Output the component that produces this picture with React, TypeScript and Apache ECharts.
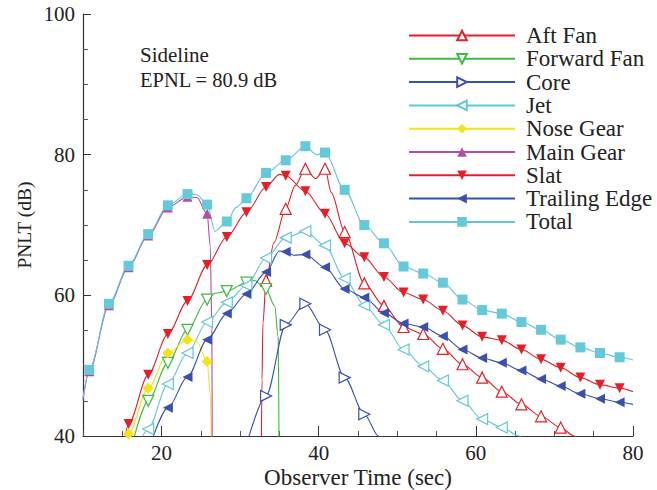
import React, { useEffect, useRef } from "react";
import * as echarts from "echarts";

// ---- data (Observer time in sec, PNLT in dB) ----
const markerStart = 10.8;
const markerStep = 2.5;

const aftFan: number[][] = [
  [32.7, 38], [32.78, 48], [32.9, 56], [33.3, 62.1], [34.3, 67.5], [35.8, 72.3], [37.0, 75.6],
  [38.3, 78.0], [39.6, 76.6], [40.8, 78.0], [41.6, 74.6], [43.3, 69.0], [45.8, 61.7],
  [48.3, 58.5], [50.8, 55.5], [53.3, 54.5], [55.8, 52.4], [58.3, 50.2], [60.8, 48.3],
  [63.3, 46.3], [65.8, 44.5], [68.3, 42.8], [70.8, 41.2], [72.5, 40], [73.2, 39.3],
];
const forwardFan: number[][] = [
  [16.5, 39.8], [18.3, 45.0], [20.8, 50.4], [23.3, 55.1], [25.8, 59.4], [26.8, 60.3],
  [28.3, 60.6], [30.8, 61.8], [31.8, 62.1], [33.3, 60.9], [34.4, 58.5], [34.85, 54], [34.95, 38],
];
const core: number[][] = [
  [31.0, 39.5], [33.3, 45.7], [35.8, 55.8], [38.3, 58.8], [40.8, 55.1], [43.3, 48.3],
  [45.8, 43.1], [47.6, 40], [48.0, 39.3],
];
const jet: number[][] = [
  [17.5, 39.8], [18.3, 41.0], [20.8, 47.4], [23.3, 51.8], [25.8, 56.2], [28.3, 59.0],
  [30.8, 61.4], [33.3, 65.3], [35.8, 68.2], [38.3, 69.1], [40.8, 67.1], [43.3, 62.4],
  [45.8, 58.6], [48.3, 55.8], [50.8, 52.3], [53.3, 49.9], [55.8, 47.9], [58.3, 45.0],
  [60.8, 42.4], [63.3, 41.2], [65.5, 40], [66.2, 39.3],
];
const noseGear: number[][] = [
  [15.4, 39.6], [15.8, 40.3], [18.3, 46.8], [20.8, 51.8], [23.3, 53.7], [24.5, 53.4],
  [25.8, 50.6], [26.2, 46], [26.35, 38],
];
const mainGear: number[][] = [
  [10.0, 45.2], [10.8, 49.2], [13.3, 58.6], [15.8, 64.0], [18.3, 68.5], [20.8, 72.5],
  [23.3, 74.0], [24.5, 73.9], [25.8, 71.6], [26.2, 67], [26.4, 55], [26.45, 38],
];
const slat: number[][] = [
  [15.3, 39.6], [15.8, 41.7], [18.3, 48.7], [20.8, 54.5], [23.3, 59.2], [25.8, 64.3],
  [28.3, 68.3], [30.8, 71.8], [33.3, 75.4], [35.0, 77.2], [35.8, 77.0], [38.3, 74.8],
  [40.8, 71.6], [43.3, 67.4], [45.8, 65.4], [48.3, 62.6], [50.8, 60.4], [53.3, 59.4],
  [55.8, 57.8], [58.3, 55.7], [60.8, 54.1], [63.3, 53.6], [65.8, 52.3], [68.3, 50.9],
  [70.8, 49.7], [73.3, 48.3], [75.8, 47.3], [78.3, 46.8], [80.0, 46.3],
];
const trailingEdge: number[][] = [
  [18.9, 39.8], [20.8, 44.0], [23.3, 48.4], [25.8, 53.7], [28.3, 57.4], [30.8, 60.2],
  [33.3, 63.3], [35.0, 66.3], [35.8, 66.2], [36.8, 65.7], [38.3, 65.8], [40.8, 64.0],
  [43.3, 60.9], [45.8, 59.7], [48.3, 57.5], [50.8, 56.0], [53.3, 55.5], [55.8, 54.2],
  [58.3, 52.3], [60.8, 51.1], [63.3, 50.4], [65.8, 49.3], [68.3, 48.1], [70.8, 47.1],
  [73.3, 46.0], [75.8, 45.3], [78.3, 44.8], [80.0, 44.5],
];
const total: number[][] = [
  [10.0, 45.4], [10.8, 49.4], [13.3, 58.8], [15.8, 64.2], [18.3, 68.7], [20.8, 72.8],
  [23.3, 74.4], [24.5, 74.3], [25.8, 72.9], [26.8, 69.1], [28.3, 70.5], [29.5, 72.5],
  [30.8, 73.8], [33.3, 77.4], [35.8, 79.2], [38.3, 81.2], [39.7, 80.0], [40.8, 80.3],
  [43.3, 75.0], [45.8, 70.0], [48.3, 67.4], [50.8, 64.1], [53.3, 63.1], [55.8, 61.8],
  [58.3, 59.4], [60.8, 57.9], [63.3, 57.4], [65.8, 56.2], [68.3, 55.1], [70.8, 53.7],
  [73.3, 52.6], [75.8, 51.8], [78.3, 51.2], [80.0, 50.8],
];

const xTickLabels = [20, 40, 60, 80];
const yTickLabels = [40, 60, 80, 100];

const RED = "#e3202a";
const GREEN = "#3fba3f";
const BLUE = "#3b4fae";
const CYAN = "#62c6d8";
const YELLOW = "#f2e31a";
const MAGENTA = "#b24ea8";
const FONT = "Liberation Serif";

function isMarker(x: number) {
  const k = (x - markerStart) / markerStep;
  return Math.abs(k - Math.round(k)) < 0.02;
}

function build(points: number[][]) {
  return points.map(([x, y]) => (isMarker(x) ? [x, y] : { value: [x, y], symbol: "none" }));
}

function mkSeries(
  name: string,
  data: number[][],
  color: string,
  symbol: string,
  rotate: number,
  hollow: boolean,
  size: number
) {
  return {
    name,
    type: "line",
    data: build(data),
    smooth: 0.3,
    smoothMonotone: "x",
    symbol,
    symbolSize: size,
    symbolRotate: rotate,
    showAllSymbol: true,
    lineStyle: { color, width: 1.1 },
    itemStyle: hollow
      ? { color: "#ffffff", borderColor: color, borderWidth: 1.2 }
      : { color, borderColor: color, borderWidth: 0 },
    emphasis: { disabled: true },
  };
}

export default function App() {
  const ref = useRef<HTMLDivElement>(null);
  useEffect(() => {
    if (!ref.current) return;
    const chart = echarts.init(ref.current, undefined, { renderer: "svg" });
    const series = [
      mkSeries("Aft Fan", aftFan, RED, "triangle", 0, true, 11),
      mkSeries("Forward Fan", forwardFan, GREEN, "triangle", 180, true, 11),
      mkSeries("Core", core, BLUE, "triangle", -90, true, 11),
      mkSeries("Jet", jet, CYAN, "triangle", 90, true, 11),
      mkSeries("Nose Gear", noseGear, YELLOW, "diamond", 0, false, 11),
      mkSeries("Main Gear", mainGear, MAGENTA, "triangle", 0, false, 10),
      mkSeries("Slat", slat, RED, "triangle", 180, false, 10),
      mkSeries("Trailing Edge", trailingEdge, BLUE, "triangle", 90, false, 10),
      mkSeries("Total", total, CYAN, "rect", 0, false, 10),
    ];
    (series[8] as any).itemStyle.color = "#66c9d9";
    chart.setOption({
      animation: false,
      backgroundColor: "#ffffff",
      grid: { left: 83, right: 24, top: 14, bottom: 54, containLabel: false, outerBoundsMode: "none" },
      legend: {
        orient: "vertical",
        left: 403,
        top: 19,
        itemWidth: 106,
        itemHeight: 12,
        itemGap: 0.3,
        symbolRotate: "inherit",
        textStyle: { fontFamily: FONT, fontSize: 23, color: "#222", lineHeight: 21, padding: [0, 0, 0, 6] },
        data: series.map((s) => s.name),
      },
      xAxis: [
        {
          type: "value",
          min: 10,
          max: 80,
          interval: 5,
          name: "Observer Time (sec)",
          nameLocation: "middle",
          nameGap: 30,
          nameMoveOverlap: false,
          nameTextStyle: { fontFamily: FONT, fontSize: 23, color: "#222" },
          axisLine: { show: true, lineStyle: { color: "#333", width: 1.2 } },
          axisTick: { show: true, inside: true, length: 5, lineStyle: { color: "#555" } },
          axisLabel: {
            fontFamily: FONT,
            fontSize: 21,
            color: "#222",
            margin: 6,
            formatter: (v: number) => (xTickLabels.includes(v) ? String(v) : ""),
          },
          splitLine: { show: false },
        },
        {
          type: "value",
          min: 10,
          max: 80,
          position: "bottom",
          axisLine: { show: false },
          axisTick: { show: true, inside: true, length: 10, customValues: xTickLabels, lineStyle: { color: "#333" } },
          axisLabel: { show: false, customValues: xTickLabels },
          splitLine: { show: false },
        },
      ],
      yAxis: {
        type: "value",
        min: 40,
        max: 100,
        interval: 20,
        name: "PNLT (dB)",
        nameLocation: "middle",
        nameGap: 49,
        nameMoveOverlap: false,
        nameTextStyle: { fontFamily: FONT, fontSize: 19.5, color: "#222" },
        axisLine: { show: true, lineStyle: { color: "#333", width: 1.2 } },
        axisTick: { show: true, inside: true, length: 8, lineStyle: { color: "#333" } },
        minorTick: { show: true, splitNumber: 4, length: 5, lineStyle: { color: "#555" } },
        axisLabel: {
          fontFamily: FONT,
          fontSize: 21,
          color: "#222",
          margin: 8,
          formatter: (v: number) => (yTickLabels.includes(v) ? String(v) : ""),
        },
        splitLine: { show: false },
        minorSplitLine: { show: false },
      },
      graphic: [
        {
          type: "text",
          left: 140,
          top: 44,
          style: { text: "Sideline", fontFamily: FONT, fontSize: 21, fill: "#222" },
        },
        {
          type: "text",
          left: 140,
          top: 69,
          style: { text: "EPNL = 80.9 dB", fontFamily: FONT, fontSize: 20.5, fill: "#222" },
        },
      ],
      series,
    });
    return () => chart.dispose();
  }, []);
  return <div ref={ref} style={{ width: 657, height: 490, position: "absolute", left: 0, top: 0 }} />;
}
